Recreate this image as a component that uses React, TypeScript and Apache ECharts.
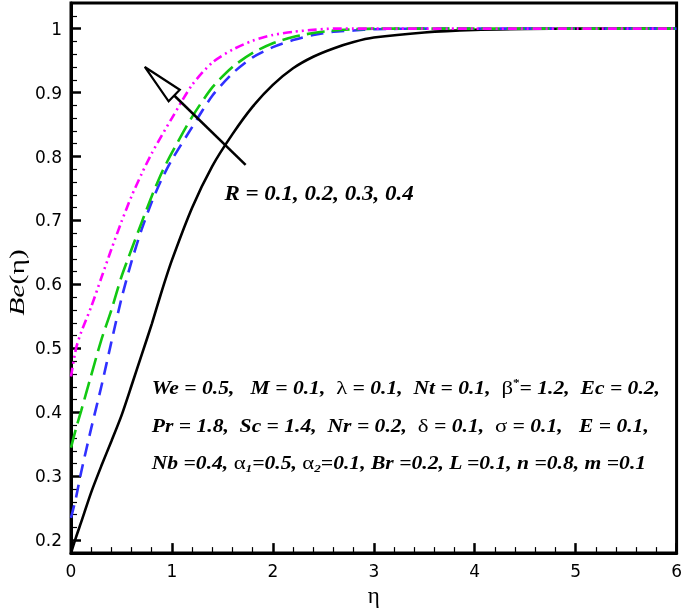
import React, { useEffect, useRef } from "react";
import * as echarts from "echarts";

// η grid and Be(η) values
const eta = [0, 0.05, 0.1, 0.2, 0.3, 0.4, 0.5, 0.6, 0.7, 0.8, 0.9, 1.0, 1.2, 1.4, 1.6, 1.8, 2.0, 2.2, 2.4, 2.6, 2.8, 3.0, 3.5, 4.0, 4.5, 5.0, 5.5, 6.0];
const beR01 = [0.18, 0.205, 0.228, 0.275, 0.316, 0.355, 0.395, 0.442, 0.49, 0.538, 0.59, 0.638, 0.72, 0.785, 0.835, 0.878, 0.912, 0.938, 0.956, 0.969, 0.979, 0.986, 0.994, 0.998, 0.9995, 1, 1, 1];
const beR02 = [0.235, 0.267, 0.306, 0.375, 0.44, 0.51, 0.578, 0.636, 0.686, 0.729, 0.765, 0.795, 0.846, 0.895, 0.93, 0.955, 0.971, 0.982, 0.99, 0.995, 0.997, 0.999, 1, 1, 1, 1, 1, 1];
const beR03 = [0.345, 0.375, 0.402, 0.458, 0.513, 0.56, 0.612, 0.655, 0.697, 0.738, 0.775, 0.806, 0.862, 0.908, 0.94, 0.962, 0.977, 0.987, 0.993, 0.997, 0.999, 1, 1, 1, 1, 1, 1, 1];
const beR04 = [0.456, 0.5, 0.525, 0.565, 0.61, 0.655, 0.698, 0.738, 0.773, 0.805, 0.833, 0.86, 0.912, 0.947, 0.967, 0.981, 0.99, 0.995, 0.998, 1, 1, 1, 1, 1, 1, 1, 1, 1];

const xTicks = [0, 1, 2, 3, 4, 5, 6];
const yMajorTicks = [0.2, 0.3, 0.4, 0.5, 0.6, 0.7, 0.8, 0.9, 1.0];
const yMinorTicks = [0.22, 0.24, 0.26, 0.28, 0.32, 0.34, 0.36, 0.38, 0.42, 0.44, 0.46, 0.48, 0.52, 0.54, 0.56, 0.58, 0.62, 0.64, 0.66, 0.68, 0.72, 0.74, 0.76, 0.78, 0.82, 0.84, 0.86, 0.88, 0.92, 0.94, 0.96, 0.98, 1.02];

// annotation anchors in data coordinates
const arrowTip = [0.731, 0.94];
const arrowTail = [1.73, 0.787];
const rLabelPos = [1.52, 0.742];
const paramPos = [0.8, 0.439];
const paramPos2 = [0.8, 0.380];
const paramPos3 = [0.8, 0.321];
const yNameAnchor = [0, 0.603];

const SERIF = "'Liberation Serif', 'Times New Roman', serif";

const pairs = (ys: number[]) => eta.map((x, i) => [x, ys[i]]);

export default function App() {
  const ref = useRef<HTMLDivElement>(null);
  useEffect(() => {
    const chart = echarts.init(ref.current!, null, { renderer: "svg" });
    const lineBase = { type: "line", showSymbol: false, symbol: "none", smooth: 0.25, z: 3 };
    chart.setOption({
      animation: false,
      grid: { left: 71, right: 6, top: 3, bottom: 54, show: true, borderColor: "#000", borderWidth: 3, backgroundColor: "#fff" },
      xAxis: {
        type: "value", min: 0, max: 6, interval: 1,
        name: "η", nameLocation: "middle", nameGap: 27,
        nameTextStyle: { fontFamily: SERIF, fontSize: 23, color: "#000" },
        axisLine: { show: true, onZero: false, lineStyle: { color: "#000", width: 3 } },
        axisTick: { show: true, inside: true, length: 10, lineStyle: { color: "#000", width: 2.5 } },
        minorTick: { show: true, splitNumber: 5, length: 6, lineStyle: { color: "#000", width: 1.2 } },
        axisLabel: { color: "#000", fontFamily: "'DejaVu Sans', sans-serif", fontSize: 17, margin: 9, customValues: xTicks },
        splitLine: { show: false },
      },
      yAxis: [
        {
          type: "value", min: 0.18, max: 1.04,
          axisLine: { show: true, onZero: false, lineStyle: { color: "#000", width: 3 } },
          axisTick: { show: true, inside: true, length: 10, customValues: yMajorTicks, lineStyle: { color: "#000", width: 2.5 } },
          axisLabel: {
            color: "#000", fontFamily: "'DejaVu Sans', sans-serif", fontSize: 17, margin: 9,
            customValues: yMajorTicks,
            formatter: (v: number) => String(Math.round(v * 10) / 10),
          },
          splitLine: { show: false },
        },
        {
          type: "value", min: 0.18, max: 1.04, position: "left",
          axisLine: { show: false },
          axisTick: { show: true, inside: true, length: 6, customValues: yMinorTicks, lineStyle: { color: "#000", width: 1.2 } },
          axisLabel: { show: false },
          splitLine: { show: false },
        },
      ],
      series: [
        { ...lineBase, name: "R = 0.1", data: pairs(beR01), lineStyle: { color: "#000", width: 2.6, type: "solid" } },
        { ...lineBase, name: "R = 0.2", data: pairs(beR02), lineStyle: { color: "#3030ff", width: 2.6, type: [13, 8] } },
        { ...lineBase, name: "R = 0.3", data: pairs(beR03), lineStyle: { color: "#12c812", width: 2.6, type: [18, 7] } },
        { ...lineBase, name: "R = 0.4", data: pairs(beR04), lineStyle: { color: "#ff00ff", width: 2.6, type: [9, 4, 2, 4, 2, 4] } },
      ],
    });

    const px = (p: number[]) => chart.convertToPixel({ xAxisIndex: 0, yAxisIndex: 0 }, p) as number[];
    const tip = px(arrowTip);
    const tail = px(arrowTail);
    const dx = tail[0] - tip[0];
    const dy = tail[1] - tip[1];
    const len = Math.hypot(dx, dy);
    const ux = dx / len, uy = dy / len;
    const headLen = 41, halfW = 8;
    const base = [tip[0] + ux * headLen, tip[1] + uy * headLen];
    const c1 = [base[0] - uy * halfW, base[1] + ux * halfW];
    const c2 = [base[0] + uy * halfW, base[1] - ux * halfW];
    const rPos = px(rLabelPos);
    const p1 = px(paramPos);
    const p2 = px(paramPos2);
    const p3 = px(paramPos3);
    const yNamePos = px(yNameAnchor);

    const richStyles = {
      i: { fontFamily: SERIF, fontStyle: "italic", fontWeight: "bold", fontSize: 18, lineHeight: 22, color: "#000" },
      g: { fontFamily: SERIF, fontSize: 19, lineHeight: 22, color: "#000" },
      sup: { fontFamily: SERIF, fontSize: 11, fontWeight: "bold", verticalAlign: "top", lineHeight: 22, color: "#000" },
      sub: { fontFamily: SERIF, fontStyle: "italic", fontWeight: "bold", fontSize: 11, verticalAlign: "bottom", lineHeight: 20, color: "#000" },
    };
    const paramText = (pos: number[], text: string) => ({
      type: "text", x: pos[0], y: pos[1], z: 10, scaleX: 1.2,
      style: { text, rich: richStyles, align: "left", verticalAlign: "middle", fill: "#000" },
    });

    chart.setOption({
      graphic: [
        { type: "line", z: 10, shape: { x1: base[0], y1: base[1], x2: tail[0], y2: tail[1] }, style: { stroke: "#000", lineWidth: 2.5 } },
        { type: "polygon", z: 11, shape: { points: [tip, c1, c2] }, style: { fill: "#fff", stroke: "#000", lineWidth: 2.2 } },
        {
          type: "text", x: rPos[0], y: rPos[1], z: 10, scaleX: 1.15,
          style: { text: "R = 0.1, 0.2, 0.3, 0.4", fontFamily: SERIF, fontStyle: "italic", fontWeight: "bold", fontSize: 20, fill: "#000", align: "left", verticalAlign: "middle" },
        },
        paramText(p1, "{i|We = 0.5,   M = 0.1,  }{g|λ}{i| = 0.1,  Nt = 0.1,  }{g|β}{sup|*}{i|= 1.2,  Ec = 0.2,}"),
        paramText(p2, "{i|Pr = 1.8,  Sc = 1.4,  Nr = 0.2,  }{g|δ}{i| = 0.1,  }{g|σ}{i| = 0.1,   E = 0.1,}"),
        paramText(p3, "{i|Nb =0.4, }{g|α}{sub|1}{i|=0.5, }{g|α}{sub|2}{i|=0.1, Br =0.2, L =0.1, n =0.8, m =0.1}"),
        {
          type: "text", x: yNamePos[0] - 54, y: yNamePos[1], rotation: Math.PI / 2, scaleX: 1.35, z: 10,
          style: {
            text: "{i|Be}{n|(η)}", align: "center", verticalAlign: "middle",
            rich: {
              i: { fontFamily: SERIF, fontStyle: "italic", fontSize: 22, color: "#000" },
              n: { fontFamily: SERIF, fontSize: 22, color: "#000" },
            },
          },
        },
      ],
    });

    return () => chart.dispose();
  }, []);
  return <div ref={ref} style={{ position: "fixed", left: 0, top: 0, width: 685, height: 612 }} />;
}
